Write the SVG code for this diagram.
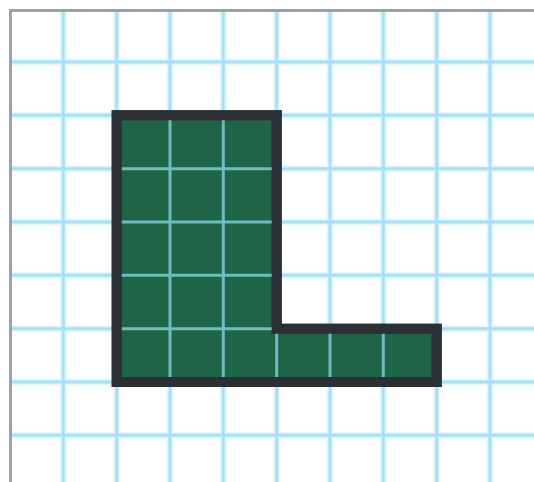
<svg xmlns="http://www.w3.org/2000/svg" width="534" height="482" viewBox="0 0 534 482">
  <style>
    .halo { stroke: #e3f6fc; stroke-width: 7; fill: none; }
    .grid { stroke: #a6e0f4; stroke-width: 3; fill: none; }
    .frame { stroke: #9aa3a4; stroke-width: 3; fill: none; }
    .inner { stroke: #6cbcc0; stroke-width: 3; fill: none; }
    .shape { fill: #1f6447; stroke: #2c2f35; stroke-width: 10; stroke-linejoin: miter; }
  </style>
  <rect x="0" y="0" width="534" height="482" fill="#ffffff"/>
  <g id="grid">
    <g class="halo">
      <path d="M63.3 12V482M116.7 12V482M170 12V482M223.3 12V482M276.7 12V482M330 12V482M383.3 12V482M436.7 12V482M490 12V482"/>
      <path d="M12 62H534M12 115.3H534M12 168.7H534M12 222H534M12 275.3H534M12 328.7H534M12 382H534M12 435.3H534"/>
    </g>
    <g class="grid">
      <path d="M63.3 12V482M116.7 12V482M170 12V482M223.3 12V482M276.7 12V482M330 12V482M383.3 12V482M436.7 12V482M490 12V482"/>
      <path d="M12 62H534M12 115.3H534M12 168.7H534M12 222H534M12 275.3H534M12 328.7H534M12 382H534M12 435.3H534"/>
    </g>
  </g>
  <g id="frame">
    <path class="frame" d="M10.5 482V10.5H534"/>
  </g>
  <g id="l-shape">
    <polygon class="shape" points="116.7,115.3 276.7,115.3 276.7,328.7 436.7,328.7 436.7,382 116.7,382"/>
    <path class="inner" d="M170 120V377M223.3 120V377M276.7 333V377M330 333V377M383.3 333V377"/>
    <path class="inner" d="M121 168.7H272M121 222H272M121 275.3H272M121 328.7H276.7"/>
    <polygon points="116.7,115.3 276.7,115.3 276.7,328.7 436.7,328.7 436.7,382 116.7,382" fill="none" stroke="#2c2f35" stroke-width="10"/>
  </g>
  <g id="connectors"/>
</svg>
